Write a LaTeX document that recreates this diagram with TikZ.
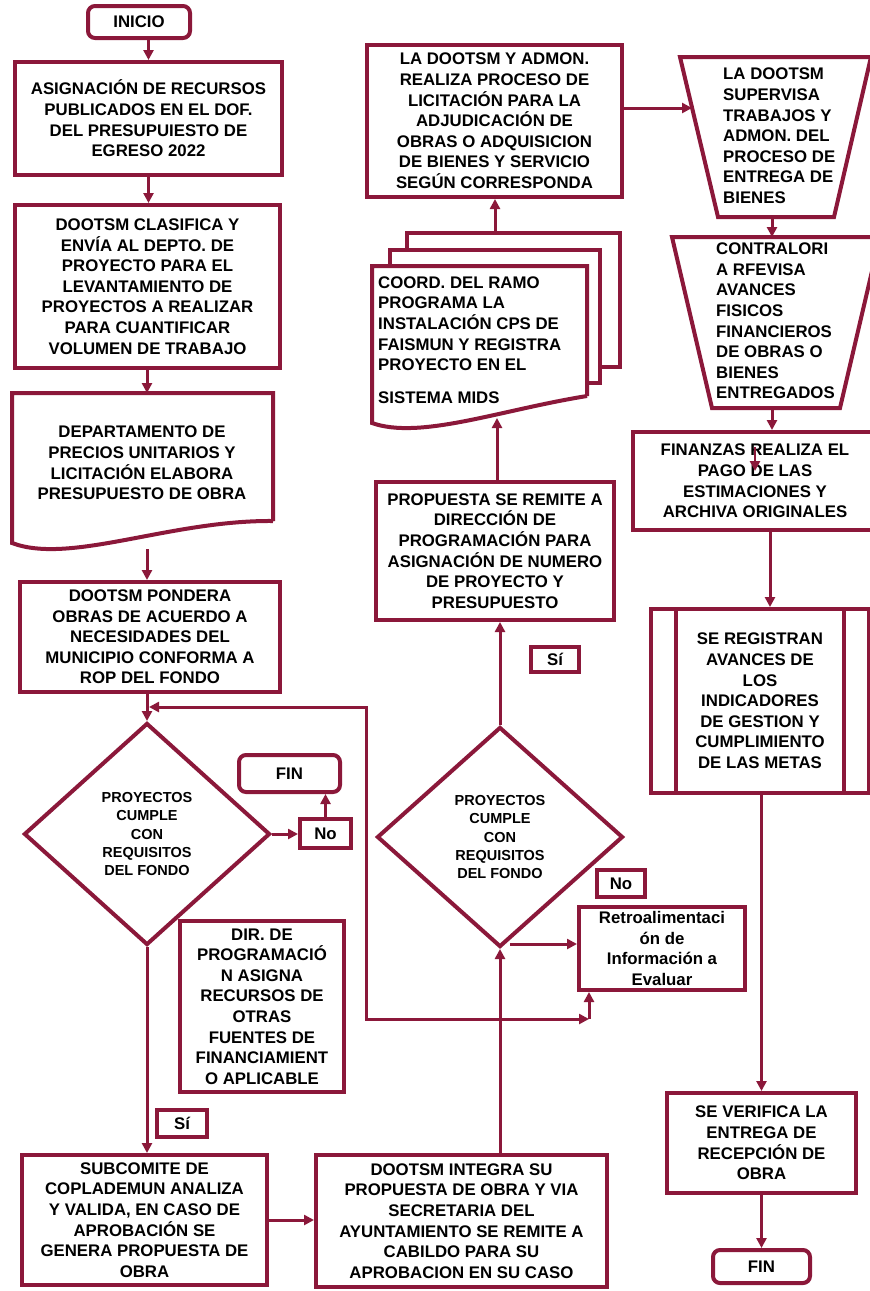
\documentclass[tikz,border=0pt]{standalone}
\usepackage{fontspec}
\setmainfont{Liberation Sans}
\usetikzlibrary{arrows.meta,shapes.geometric,calc}
\definecolor{mar}{RGB}{139,24,58}
\newcommand\bxfont{\fontsize{16.8}{20.6}\selectfont\bfseries}
\newcommand\dxfont{\fontsize{14.5}{18.4}\selectfont\bfseries}
\begin{document}
\begin{tikzpicture}[x=1pt,y=-1pt,
  shp/.style={draw=mar,line width=4pt,fill=white},
  box/.style={shp,align=center,font=\bxfont,inner sep=0pt},
  rbox/.style={box,rounded corners=7pt},
  dia/.style={shp,diamond,align=center,font=\dxfont,inner sep=0pt,aspect=1.1},
  txt/.style={align=center,font=\bxfont,inner sep=0pt},
  ltxt/.style={align=left,font=\bxfont,inner sep=0pt,anchor=west},
  arr/.style={draw=mar,line width=3pt,-{Triangle[length=10pt,width=10pt]}},
  dbl/.style={draw=mar,line width=3pt,{Triangle[length=10pt,width=10pt]}-{Triangle[length=10pt,width=10pt]}},
  ln/.style={draw=mar,line width=4pt},
]
\useasboundingbox (0,0) rectangle (870,1291);
\fill[white] (0,0) rectangle (870,1291);

% left column
\node[rbox,minimum width=102pt,minimum height=32pt] (inicio) at (139,22) {INICIO};
\node[box,minimum width=267pt,minimum height=113pt] (b1) at (148.5,118.5) {ASIGNACIÓN DE RECURSOS\\PUBLICADOS EN EL DOF.\\DEL PRESUPUIESTO DE\\EGRESO 2022};
\node[box,minimum width=265pt,minimum height=163pt] (b2) at (147.5,286.5) {DOOTSM CLASIFICA Y\\ENVÍA AL DEPTO. DE\\PROYECTO PARA EL\\LEVANTAMIENTO DE\\PROYECTOS A REALIZAR\\PARA CUANTIFICAR\\VOLUMEN DE TRABAJO};
\draw[shp] (273,521) -- (273,393) -- (12,393) -- (12,543) .. controls (70,565) and (170,520) .. (273,521);
\node[txt] (doc3) at (142,463) {DEPARTAMENTO DE\\PRECIOS UNITARIOS Y\\LICITACIÓN ELABORA\\PRESUPUESTO DE OBRA};
\coordinate (doc3top) at (147,393);
\coordinate (doc3bot) at (147,549);
\node[box,minimum width=260pt,minimum height=110pt] (b4) at (150,637) {DOOTSM PONDERA\\OBRAS DE ACUERDO A\\NECESIDADES DEL\\MUNICIPIO CONFORMA A\\ROP DEL FONDO};
\node[dia,minimum width=246pt,minimum height=222pt] (d1) at (147,834) {PROYECTOS\\CUMPLE\\CON\\REQUISITOS\\DEL FONDO};
\node[rbox,minimum width=101pt,minimum height=37pt] (fin1) at (289.5,773.5) {FIN};
\node[box,minimum width=51pt,minimum height=29pt] (no1) at (325.5,833.5) {No};
\node[box,minimum width=164pt,minimum height=171pt] (dir) at (262,1006.5) {DIR. DE\\PROGRAMACIÓ\\N ASIGNA\\RECURSOS DE\\OTRAS\\FUENTES DE\\FINANCIAMIENT\\O APLICABLE};
\node[box,minimum width=50pt,minimum height=27pt] (si1) at (182,1123.5) {Sí};
\node[box,minimum width=245pt,minimum height=130pt] (sub) at (144.5,1220) {SUBCOMITE DE\\COPLADEMUN ANALIZA\\Y VALIDA, EN CASO DE\\APROBACIÓN SE\\GENERA PROPUESTA DE\\OBRA};

% middle column
\node[box,minimum width=291pt,minimum height=132pt] (int) at (461.5,1221) {DOOTSM INTEGRA SU\\PROPUESTA DE OBRA Y VIA\\SECRETARIA DEL\\AYUNTAMIENTO SE REMITE A\\CABILDO PARA SU\\APROBACION EN SU CASO};
\node[dia,minimum width=246pt,minimum height=220pt] (d2) at (500,837) {PROYECTOS\\CUMPLE\\CON\\REQUISITOS\\DEL FONDO};
\node[box,minimum width=48pt,minimum height=27pt] (no2) at (621,883.5) {No};
\node[box,minimum width=166pt,minimum height=83pt] (retro) at (662,948.5) {Retroalimentaci\\ón de\\Información a\\Evaluar};
\node[box,minimum width=48pt,minimum height=25pt] (si2) at (555,659.5) {Sí};
\node[box,minimum width=238pt,minimum height=138pt] (prop) at (495,551) {PROPUESTA SE REMITE A\\DIRECCIÓN DE\\PROGRAMACIÓN PARA\\ASIGNACIÓN DE NUMERO\\DE PROYECTO Y\\PRESUPUESTO};
% multi-document
\draw[shp] (407,233) rectangle (620,367);
\draw[shp] (390,250) rectangle (600,383);
\draw[shp] (587,396) -- (587,266) -- (372,266) -- (372,423) .. controls (420,440) and (500,410) .. (587,396);
\node[ltxt] (cdoc) at (378,340) {COORD. DEL RAMO\\PROGRAMA LA\\INSTALACIÓN CPS DE\\FAISMUN Y REGISTRA\\PROYECTO EN EL\\[12pt]SISTEMA MIDS};
\coordinate (cdocbot) at (497,418);
\coordinate (cdoctop) at (495,233);
\node[box,minimum width=255pt,minimum height=152pt] (lic) at (494.5,121) {LA DOOTSM Y ADMON.\\REALIZA PROCESO DE\\LICITACIÓN PARA LA\\ADJUDICACIÓN DE\\OBRAS O ADQUISICION\\DE BIENES Y SERVICIO\\SEGÚN CORRESPONDA};

% right column
\draw[shp] (680,57) -- (871,57) -- (834,217) -- (718,217) -- cycle;
\node[ltxt] (t1) at (723,136) {LA DOOTSM\\SUPERVISA\\TRABAJOS Y\\ADMON. DEL\\PROCESO DE\\ENTREGA DE\\BIENES};
\coordinate (t1l) at (692,108);
\coordinate (t1b) at (772,217);
\draw[shp] (672,237) -- (880,237) -- (840,408) -- (712,408) -- cycle;
\node[ltxt] (t2) at (716,321) {CONTRALORI\\A RFEVISA\\AVANCES\\FISICOS\\FINANCIEROS\\DE OBRAS O\\BIENES\\ENTREGADOS};
\coordinate (t2t) at (772,237);
\coordinate (t2b) at (772,408);
\node[box,minimum width=244pt,minimum height=98pt] (finz) at (755,481) {FINANZAS REALIZA EL\\PAGO DE LAS\\ESTIMACIONES Y\\ARCHIVA ORIGINALES};
\coordinate (sa1) at (755,447);
\coordinate (sa2) at (755,471);
\coordinate (fzb) at (770,530);
\node[box,minimum width=218pt,minimum height=184pt] (reg) at (760,701) {SE REGISTRAN\\AVANCES DE\\LOS\\INDICADORES\\DE GESTION Y\\CUMPLIMIENTO\\DE LAS METAS};
\draw[ln] ([xshift=27pt]reg.north west) -- ([xshift=27pt]reg.south west);
\draw[ln] ([xshift=-27pt]reg.north east) -- ([xshift=-27pt]reg.south east);
\node[box,minimum width=189pt,minimum height=100pt] (ver) at (761.5,1143) {SE VERIFICA LA\\ENTREGA DE\\RECEPCIÓN DE\\OBRA};
\node[rbox,minimum width=97pt,minimum height=33pt] (fin2) at (761.5,1266.5) {FIN};

% loop coordinates
\coordinate (lp1) at (366,707);
\coordinate (lp2) at (366,1019);
\coordinate (lpend) at (589,1019);
\coordinate (d2r) at (510,944);

% connectors
\draw[arr] (inicio.south -| b1.north) -- (b1.north);
\draw[arr] (b1.south) -- (b1.south |- b2.north);
\draw[arr] (b2.south -| doc3top) -- (doc3top);
\draw[arr] (doc3bot) -- (doc3bot |- b4.north);
\draw[arr] (b4.south -| d1.north) -- (d1.north);
\draw[arr] (d1.east) -- (d1.east -| no1.west);
\draw[arr] (no1.north) -- (no1.north |- fin1.south);
\draw[arr] (d1.south) -- (d1.south |- sub.north);
\draw[arr] (sub.east) -- (sub.east -| int.west);
\draw[arr] (int.north -| d2.south) -- (d2.south);
\draw[dbl] ([xshift=2pt]d1.north |- lp1) -- (lp1) -- (lp2) -- (lpend);
\draw[arr] (lpend) -- (lpend |- retro.south);
\draw[arr] (d2r) -- (d2r -| retro.west);
\draw[arr] (d2.north) -- (d2.north |- prop.south);
\draw[arr] (prop.north -| cdocbot) -- (cdocbot);
\draw[arr] (cdoctop) -- (cdoctop |- lic.south);
\draw[arr] (lic.east |- t1l) -- (t1l);
\draw[arr] (t1b) -- (t2t);
\draw[arr] (t2b) -- (t2b |- finz.north);
\draw[arr,line width=2.5pt] (sa1) -- (sa2);
\draw[arr] (fzb) -- (fzb |- reg.north);
\draw[arr] (reg.south -| ver.north) -- (ver.north);
\draw[arr] (ver.south) -- (fin2.north);
\end{tikzpicture}
\end{document}
